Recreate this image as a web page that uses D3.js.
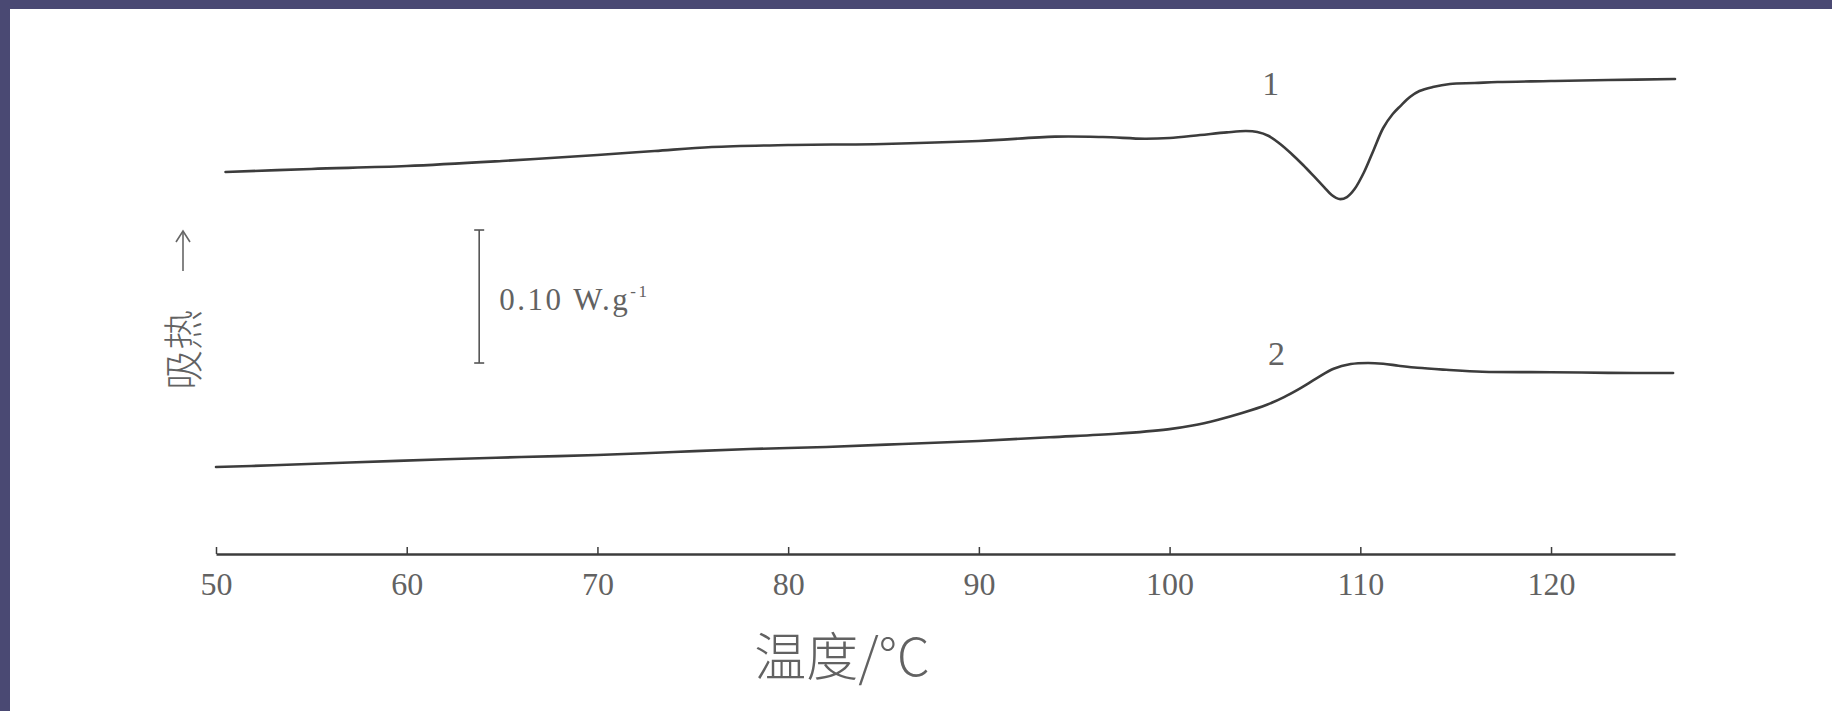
<!DOCTYPE html>
<html>
<head>
<meta charset="utf-8">
<script src="https://cdn.jsdelivr.net/npm/d3@7"></script>
<style>
  html, body { margin: 0; padding: 0; background: #ffffff; }
  svg { display: block; }
</style>
</head>
<body>
<svg id="chart" width="1832" height="711"></svg>
<script>
// ---- data (temperature in °C, heat flow in W/g, arbitrary offset) ----
const xTicks = [50, 60, 70, 80, 90, 100, 110, 120];
const xLabel = "温度/°C";
const yLabel = "吸热";

const curve1T = [50.5, 55, 60, 65, 70, 73, 76, 80, 85, 90, 94, 96.5, 98.7, 100, 101.6, 103, 104, 104.6, 105.2, 105.8, 106.4, 107.0, 107.6, 108.1, 108.5, 108.9, 109.3, 109.7, 110.2, 110.7, 111.2, 111.7, 112.1, 112.6, 113.1, 113.8, 114.7, 116, 117.2, 120, 123, 126.5];
const curve1V = [0.2872, 0.2895, 0.2917, 0.2955, 0.3000, 0.3030, 0.3060, 0.3075, 0.3083, 0.3105, 0.3138, 0.3135, 0.3122, 0.3128, 0.3150, 0.3170, 0.3180, 0.3173, 0.3143, 0.3083, 0.3008, 0.2925, 0.2835, 0.2759, 0.2699, 0.2669, 0.2684, 0.2744, 0.2872, 0.3038, 0.3203, 0.3308, 0.3368, 0.3436, 0.3481, 0.3511, 0.3534, 0.3541, 0.3549, 0.3556, 0.3564, 0.3571];

const curve2T = [50.0, 53, 57, 62, 66, 70, 74, 78, 82, 86, 90, 93.7, 97.2, 99.9, 101.2, 102.5, 103.8, 105.1, 106.0, 106.8, 107.7, 108.6, 109.5, 110.4, 111.2, 112.0, 113.0, 114.5, 116.4, 120, 123, 126.4];
const curve2V = [0.0654, 0.0667, 0.0688, 0.0712, 0.0729, 0.0744, 0.0767, 0.0789, 0.0805, 0.0827, 0.0850, 0.0878, 0.0904, 0.0937, 0.0966, 0.1008, 0.1060, 0.1122, 0.1180, 0.1242, 0.1320, 0.1393, 0.1428, 0.1436, 0.1430, 0.1416, 0.1400, 0.1385, 0.1370, 0.1367, 0.1362, 0.1361];

const curveLabels = ["1", "2"];
const curveLabelT = [105.3, 105.6];
const curveLabelV = [0.354, 0.151];

const scaleBarValue = 0.10;           // W/g
const scaleBarText = "0.10 W.g";
const scaleBarSup = "-1";
const scaleBarT = 63.8;
const scaleBarBottomV = 0.1436;

// ---- drawing ----
const svg = d3.select("#chart");

// scan frame (top & left dark border)
svg.append("rect").attr("x", 0).attr("y", 0).attr("width", 1832).attr("height", 9).attr("fill", "#4a4973");
svg.append("rect").attr("x", 0).attr("y", 0).attr("width", 10).attr("height", 711).attr("fill", "#4a4973");

const x = d3.scaleLinear().domain([50, 126.5]).range([216, 1675]);
const y = d3.scaleLinear().domain([0, 0.40]).range([554, 22]);

const ink = "#3c3c3c";
const textInk = "#626262";

// x axis
const xAxis = d3.axisBottom(x)
  .tickValues(xTicks)
  .tickFormat(d3.format("d"))
  .tickSizeInner(-7)
  .tickSizeOuter(0)
  .tickPadding(18);

const gx = svg.append("g").attr("transform", `translate(0,${y(0)})`).call(xAxis);
gx.select(".domain").attr("stroke", ink).attr("stroke-width", 2.6);
gx.selectAll(".tick line").attr("stroke", ink).attr("stroke-width", 1.5);
gx.selectAll(".tick text")
  .attr("fill", textInk)
  .style("font-family", "'Liberation Serif', 'DejaVu Serif', serif")
  .style("font-size", "32px");

// curves
const line = d3.line()
  .x(d => x(d[0]))
  .y(d => y(d[1]))
  .curve(d3.curveCatmullRom.alpha(0.5));

const series = [
  d3.zip(curve1T, curve1V),
  d3.zip(curve2T, curve2V)
];

svg.append("g").selectAll("path")
  .data(series)
  .join("path")
  .attr("d", line)
  .attr("fill", "none")
  .attr("stroke", ink)
  .attr("stroke-width", 2.6)
  .attr("stroke-linejoin", "round")
  .attr("stroke-linecap", "round");

// curve labels
svg.append("g").selectAll("text")
  .data(curveLabels)
  .join("text")
  .attr("x", (d, i) => x(curveLabelT[i]))
  .attr("y", (d, i) => y(curveLabelV[i]))
  .attr("text-anchor", "middle")
  .attr("dominant-baseline", "central")
  .attr("fill", textInk)
  .style("font-family", "'Liberation Serif', 'DejaVu Serif', serif")
  .style("font-size", "34px")
  .text(d => d);

// scale bar
const sbX = x(scaleBarT);
const sbY0 = y(scaleBarBottomV);
const sbY1 = y(scaleBarBottomV + scaleBarValue);
const sb = svg.append("g").attr("stroke", "#555").attr("stroke-width", 1.6);
sb.append("line").attr("x1", sbX).attr("x2", sbX).attr("y1", sbY0).attr("y2", sbY1);
sb.append("line").attr("x1", sbX - 5).attr("x2", sbX + 5).attr("y1", sbY0).attr("y2", sbY0);
sb.append("line").attr("x1", sbX - 5).attr("x2", sbX + 5).attr("y1", sbY1).attr("y2", sbY1);

const sbText = svg.append("text")
  .attr("x", sbX + 20)
  .attr("y", (sbY0 + sbY1) / 2 + 13)
  .attr("fill", textInk)
  .style("font-family", "'Liberation Serif', 'DejaVu Serif', serif")
  .style("font-size", "31px")
  .style("letter-spacing", "2.5px");
sbText.append("tspan").text(scaleBarText);
sbText.append("tspan").attr("dy", -13).style("font-size", "17px").text(scaleBarSup);

// x axis title
svg.append("text")
  .attr("x", 842)
  .attr("y", 676)
  .attr("text-anchor", "middle")
  .attr("fill", textInk)
  .style("font-family", "'Noto Sans CJK SC', sans-serif")
  .style("font-weight", 300)
  .style("font-size", "52px")
  .text(xLabel);

// y axis title (rotated) with arrow
svg.append("text")
  .attr("transform", "translate(181,390) rotate(-90)")
  .attr("text-anchor", "start")
  .attr("dominant-baseline", "central")
  .attr("fill", textInk)
  .style("font-family", "'Noto Sans CJK SC', sans-serif")
  .style("font-weight", 300)
  .style("font-size", "40px")
  .text(yLabel);

const ar = svg.append("g").attr("stroke", "#666").attr("stroke-width", 1.6).attr("fill", "none");
ar.append("line").attr("x1", 183).attr("x2", 183).attr("y1", 271).attr("y2", 231);
ar.append("path").attr("d", "M176,242 L183,231 L190,242");
</script>
</body>
</html>
